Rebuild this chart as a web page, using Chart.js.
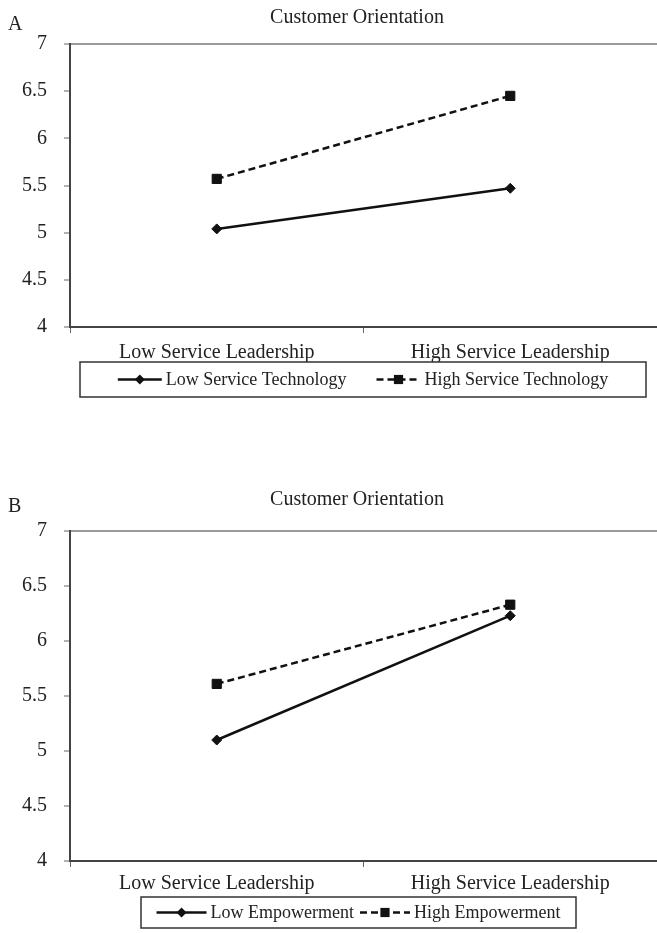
<!DOCTYPE html>
<html>
<head>
<meta charset="utf-8">
<script src="https://cdn.jsdelivr.net/npm/chart.js@4"></script>
<style>
    html, body { margin: 0; padding: 0; background: #fff; }
    body { width: 657px; height: 933px; position: relative; overflow: hidden; }
    .panel { position: absolute; left: 0; width: 657px; }
</style>
</head>
<body>
<div class="panel" style="top:0;height:420px"><canvas id="chartA"></canvas></div>
<div class="panel" style="top:470px;height:463px"><canvas id="chartB"></canvas></div>
<script>
const categories = ['Low Service Leadership', 'High Service Leadership'];
const yTicks = [4, 4.5, 5, 5.5, 6, 6.5, 7];
const chartTitle = 'Customer Orientation';

// panel A
const seriesA = ['Low Service Technology', 'High Service Technology'];
const lowTechValues = [5.04, 5.47];
const highTechValues = [5.57, 6.45];

// panel B
const seriesB = ['Low Empowerment', 'High Empowerment'];
const lowEmpValues = [5.10, 6.23];
const highEmpValues = [5.61, 6.33];

const serif = "'Liberation Serif', 'Times New Roman', serif";
Chart.defaults.font.family = serif;
Chart.defaults.font.size = 20;
Chart.defaults.color = '#222';

function drawMarker(ctx, style, x, y, r) {
    ctx.beginPath();
    if (style === 'rect') {
        const s = r * Math.SQRT1_2;
        ctx.rect(x - s, y - s, 2 * s, 2 * s);
    } else {
        ctx.moveTo(x - r, y);
        ctx.lineTo(x, y - r);
        ctx.lineTo(x + r, y);
        ctx.lineTo(x, y + r);
        ctx.closePath();
    }
    ctx.fill();
}

// title, panel letter and the boxed legend under the axis
const panelDecor = {
    id: 'panelDecor',
    afterDraw(chart, args, o) {
        const ctx = chart.ctx;
        ctx.save();
        ctx.fillStyle = '#222';
        ctx.font = '20px ' + serif;
        ctx.textBaseline = 'middle';
        ctx.textAlign = 'center';
        ctx.fillText(o.title, o.titleX, o.titleY);
        ctx.textAlign = 'left';
        ctx.fillText(o.letter, o.letterX, o.letterY);

        // legend box
        ctx.strokeStyle = '#333';
        ctx.lineWidth = 1.5;
        ctx.strokeRect(o.legendLeft, o.legendTop, o.legendWidth, o.legendHeight);

        ctx.font = '18px ' + serif;
        const items = chart.data.datasets.map(ds => ({
            ds, w: o.sampleLen + 4 + ctx.measureText(ds.label).width
        }));
        const total = items.reduce((a, it) => a + it.w, 0) + o.itemGap * (items.length - 1);
        let x = o.legendLeft + (o.legendWidth - total) / 2;
        const cy = o.legendTop + o.legendHeight / 2;
        items.forEach(it => {
            const ds = it.ds;
            ctx.strokeStyle = ds.borderColor;
            ctx.fillStyle = ds.borderColor;
            ctx.lineWidth = ds.borderWidth;
            ctx.setLineDash(ds.borderDash || []);
            ctx.beginPath();
            ctx.moveTo(x, cy);
            ctx.lineTo(x + o.sampleLen, cy);
            ctx.stroke();
            ctx.setLineDash([]);
            drawMarker(ctx, ds.pointStyle, x + o.sampleLen / 2, cy, ds.pointRadius);
            ctx.fillStyle = '#222';
            ctx.fillText(ds.label, x + o.sampleLen + 4, cy + 1);
            x += it.w + o.itemGap;
        });
        ctx.restore();
    }
};

function makeChart(id, names, lowValues, highValues, decor, padding, labelPad) {
    return new Chart(document.getElementById(id), {
        type: 'line',
        data: {
            labels: categories,
            datasets: [{
                label: names[0],
                data: lowValues,
                borderColor: '#111',
                backgroundColor: '#111',
                borderWidth: 2.5,
                borderDash: [],
                pointStyle: 'rectRot',
                pointRadius: 5,
                pointBorderWidth: 1
            }, {
                label: names[1],
                data: highValues,
                borderColor: '#111',
                backgroundColor: '#111',
                borderWidth: 2.5,
                borderDash: [7, 4],
                pointStyle: 'rect',
                pointRadius: 6.5,
                pointBorderWidth: 1
            }]
        },
        options: {
            responsive: true,
            maintainAspectRatio: false,
            animation: false,
            layout: { padding: padding, autoPadding: false },
            scales: {
                x: {
                    offset: true,
                    afterFit: s => { s.height = 35; s.paddingLeft = 0; s.paddingRight = 0; },
                    grid: {
                        offset: true,
                        drawOnChartArea: false,
                        drawTicks: true,
                        tickLength: 6,
                        tickColor: '#666',
                        tickWidth: 1
                    },
                    border: { color: '#444', width: 2 },
                    ticks: { padding: labelPad, color: '#222', maxRotation: 0 }
                },
                y: {
                    min: 4,
                    max: 7,
                    afterFit: s => { s.width = 70; },
                    afterBuildTicks: s => { s.ticks = yTicks.map(v => ({ value: v })); },
                    grid: {
                        color: c => (c.tick && c.tick.value === 7) ? '#9a9a9a' : 'rgba(0,0,0,0)',
                        lineWidth: 2,
                        drawTicks: true,
                        tickLength: 6,
                        tickColor: '#666',
                        tickWidth: 1
                    },
                    border: { color: '#444', width: 2 },
                    ticks: { padding: 17, color: '#222', callback: v => String(v) }
                }
            },
            plugins: {
                legend: { display: false },
                tooltip: { enabled: false },
                panelDecor: decor
            }
        },
        plugins: [panelDecor]
    });
}

window.chartA = makeChart('chartA', seriesA, lowTechValues, highTechValues, {
    title: chartTitle, titleX: 357, titleY: 18,
    letter: 'A', letterX: 8, letterY: 25,
    legendLeft: 80, legendTop: 362, legendWidth: 566, legendHeight: 35,
    sampleLen: 44, itemGap: 30
}, { top: 44, bottom: 58, left: 0, right: 0 }, 8);

window.chartB = makeChart('chartB', seriesB, lowEmpValues, highEmpValues, {
    title: chartTitle, titleX: 357, titleY: 30,
    letter: 'B', letterX: 8, letterY: 37,
    legendLeft: 141, legendTop: 427, legendWidth: 435, legendHeight: 31,
    sampleLen: 50, itemGap: 6
}, { top: 61, bottom: 37, left: 0, right: 0 }, 5);
</script>
</body>
</html>
